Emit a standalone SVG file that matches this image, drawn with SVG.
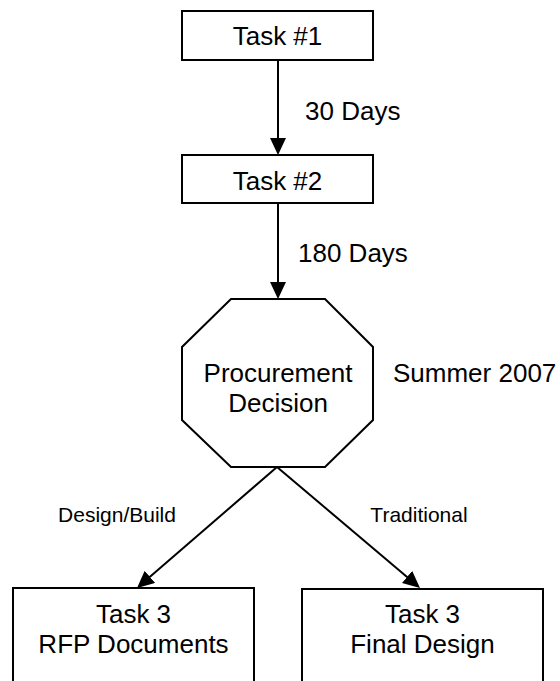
<svg xmlns="http://www.w3.org/2000/svg" width="560" height="681" viewBox="0 0 560 681">
  <style>
    .box { fill: #fff; stroke: #000; stroke-width: 2; }
    .edge { fill: none; stroke: #000; stroke-width: 2; }
    text { font-family: "Liberation Sans", Arial, sans-serif; fill: #000; }
    .big { font-size: 26px; }
    .small { font-size: 21px; }
    .mid { text-anchor: middle; }
  </style>
  <defs>
    <marker id="arrow" markerUnits="userSpaceOnUse" markerWidth="18" markerHeight="16" refX="14" refY="8" orient="auto">
      <path d="M0,0 L17,8 L0,16 z" fill="#000"/>
    </marker>
  </defs>
  <rect width="560" height="681" fill="#fff"/>

  <!-- connectors -->
  <g id="connectors">
    <line class="edge" x1="278" y1="60" x2="278" y2="152" marker-end="url(#arrow)"/>
    <line class="edge" x1="278" y1="203" x2="278" y2="296" marker-end="url(#arrow)"/>
    <line class="edge" x1="277" y1="467" x2="139.3" y2="586" marker-end="url(#arrow)"/>
    <line class="edge" x1="277" y1="467" x2="417.7" y2="586" marker-end="url(#arrow)"/>
    <text class="big" x="305" y="120">30 Days</text>
    <text class="big" x="298" y="262">180 Days</text>
    <text class="small mid" x="117" y="522">Design/Build</text>
    <text class="small mid" x="419" y="522">Traditional</text>
  </g>

  <g id="task1">
    <rect class="box" x="182" y="11" width="191" height="49"/>
    <text class="big mid" x="277.5" y="45">Task #1</text>
  </g>

  <g id="task2">
    <rect class="box" x="182" y="155" width="191" height="48"/>
    <text class="big mid" x="277.5" y="190">Task #2</text>
  </g>

  <g id="procurement">
    <polygon class="box" points="231,299 325,299 373,347 373,420 325,467 231,467 182,420 182,347"/>
    <text class="big mid" x="278" y="382">Procurement</text>
    <text class="big mid" x="278" y="412">Decision</text>
  </g>

  <text id="summer" class="big" x="393" y="382">Summer 2007</text>

  <g id="task3-rfp">
    <rect class="box" x="13" y="588" width="241" height="120"/>
    <text class="big mid" x="133.5" y="623">Task 3</text>
    <text class="big mid" x="133.5" y="653">RFP Documents</text>
  </g>

  <g id="task3-final">
    <rect class="box" x="302" y="589" width="241" height="120"/>
    <text class="big mid" x="422.5" y="623">Task 3</text>
    <text class="big mid" x="422.5" y="653">Final Design</text>
  </g>
</svg>
